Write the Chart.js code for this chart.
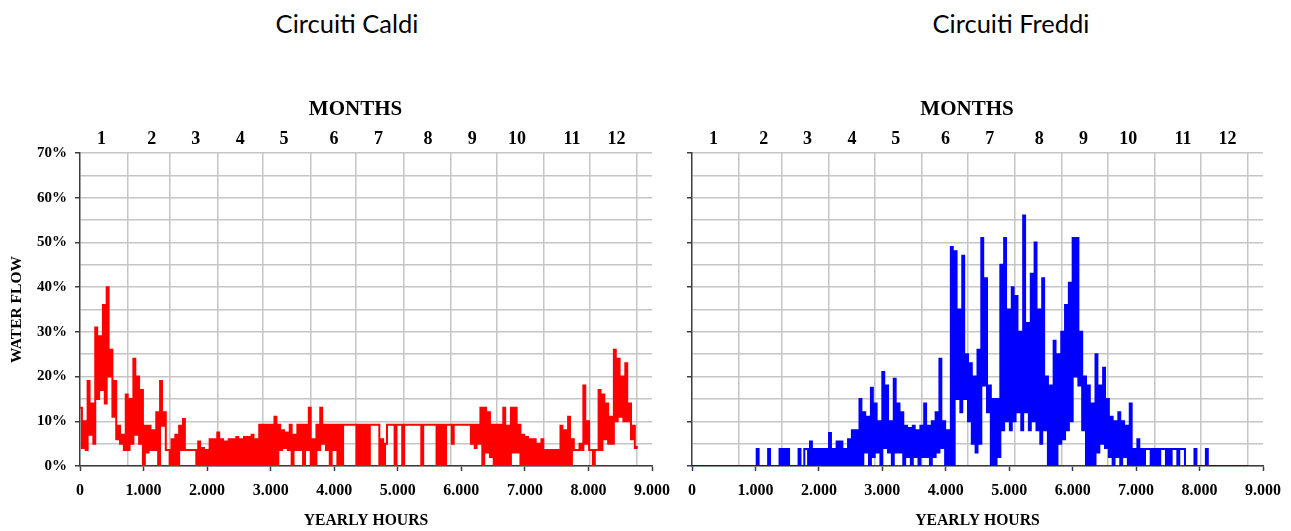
<!DOCTYPE html>
<html>
<head>
<meta charset="utf-8">
<title>Circuiti Caldi / Circuiti Freddi</title>
<script src="https://cdn.jsdelivr.net/npm/chart.js@4.4.1/dist/chart.umd.min.js"></script>
<style>
  html, body { margin: 0; padding: 0; background: #fff; }
  body { width: 1291px; height: 531px; position: relative; overflow: hidden; }
  .heading {
    position: absolute; top: 11px; line-height: 1;
    font-family: Lato, "Open Sans", sans-serif; font-size: 25.5px; color: #000;
    transform: translateX(-50%); white-space: nowrap;
  }
  .panel { position: absolute; top: 0; height: 531px; }
  canvas { display: block; }
</style>
</head>
<body>
<div class="heading" style="left:347px">Circuiti Caldi</div>
<div class="heading" style="left:1011px">Circuiti Freddi</div>
<div class="panel" style="left:0;width:680px"><canvas id="caldi" width="680" height="531"></canvas></div>
<div class="panel" style="left:612px;width:679px"><canvas id="freddi" width="679" height="531"></canvas></div>

<script>
// ---- Calendar / tick labels ----
const monthLabels = ['1', '2', '3', '4', '5', '6', '7', '8', '9', '10', '11', '12'];
// hour at which each month number is printed on the top axis
const monthLabelHours = [340, 1130, 1820, 2520, 3210, 3995, 4695, 5475, 6170, 6875, 7740, 8440];
const monthDays = [31, 28, 31, 30, 31, 30, 31, 31, 30, 31, 30, 31];
const hourTickValues = [0, 1000, 2000, 3000, 4000, 5000, 6000, 7000, 8000, 9000];
const hourTickLabels = ['0', '1.000', '2.000', '3.000', '4.000', '5.000', '6.000', '7.000', '8.000', '9.000'];
const flowGridValues = [0, 5, 10, 15, 20, 25, 30, 35, 40, 45, 50, 55, 60, 65, 70];
const flowTickLabels = ['0%', '10%', '20%', '30%', '40%', '50%', '60%', '70%'];

// ---- Hourly water flow (%), two samples per 60-hour block:
// first half of the block, second half of the block ----
const BLOCK_HOURS = 60;

const caldiFirst = [
  13, 10, 19, 14, 31, 29, 36, 40, 26, 19,
  9, 7, 16, 15, 24, 20, 17, 9, 9, 8,
  12, 19, 12, 3.6, 6, 7, 9, 10.5, 3.6, 3.6,
  3.6, 5.5, 4, 3.6, 6, 6, 7.5, 6, 5.5, 6,
  6, 6.5, 6, 6.5, 6.5, 7, 6, 9.2, 9.2, 9.2,
  9.2, 11, 9.2, 8, 7.5, 9.2, 7, 9.2, 9.2, 9.2,
  13, 6, 9.2, 13, 9.2, 9.2, 9.2, 9.2, 9.2, 9.2,
  9.2, 9.2, 9.2, 9.2, 9.2, 9.2, 9.2, 9.2, 9.2, 6,
  5, 9.2, 9.2, 9.2, 9.2, 9.2, 9.2, 9.2, 9.2, 9.2,
  9.2, 9.2, 9.2, 9.2, 9.2, 9.2, 9.2, 9.2, 9.2, 9.2,
  9.2, 9.2, 9.2, 9.2, 9.2, 13, 13, 12, 9.2, 9.2,
  9.2, 13, 9, 13, 13, 9.2, 7, 6.5, 6, 6,
  5, 6, 3.6, 3.6, 3.6, 3.6, 9, 8, 11, 6,
  3.6, 5, 18, 10, 3.6, 3.6, 17, 16, 14, 11,
  26, 24, 20, 23, 14, 9
];
const caldiSecond = [
  4, 3.6, 7, 5, 15, 17, 14, 20, 11, 6,
  5, 3.6, 3.6, 5, 7, 5, 0, 3, 3.6, 3.6,
  0, 9, 3.6, 0, 0, 0, 3.6, 3.6, 3.6, 3.6,
  0, 0, 0, 0, 0, 0, 0, 0, 0, 0,
  0, 0, 0, 0, 0, 0, 0, 0, 0, 0,
  0, 0, 3.6, 4, 3.6, 0, 3.6, 3.6, 0, 3.6,
  0, 0, 3.6, 5, 3.6, 0, 3.6, 0, 0, 9.2,
  9.2, 9.2, 0, 0, 0, 0, 9.2, 9.2, 0, 0,
  9.2, 9.2, 0, 9.2, 0, 9.2, 9.2, 9.2, 9.2, 0,
  9.2, 9.2, 9.2, 0, 0, 0, 9.2, 5, 9.2, 9.2,
  9.2, 9.2, 5, 4, 5, 0, 3, 2, 0, 0,
  0, 0, 0, 3, 3, 0, 0, 0, 0, 0,
  0, 0, 0, 0, 0, 0, 0, 0, 0, 3.6,
  3.6, 3.6, 5, 3.6, 0, 3.6, 3.6, 6, 5, 5,
  10, 11, 10, 10, 6, 4
];
const caldiLast = 4.5;

const freddiFirst = [
  0, 0, 0, 0, 0, 0, 0, 0, 0, 0,
  0, 0, 0, 0, 0, 0, 0, 3.8, 0, 0,
  3.8, 0, 0, 3.8, 3.8, 3.8, 0, 0, 3.8, 0,
  3.8, 5.5, 3.8, 3.8, 3.8, 3.8, 7.4, 3.8, 5.5, 5.5,
  3.8, 6, 8, 8, 15, 12, 11, 17.5, 14, 10,
  21, 18, 10, 19.5, 14, 12, 9, 8.5, 9, 8,
  9, 14, 9, 10, 12, 24, 10, 8, 49, 48,
  35, 47, 25, 23, 20, 26, 51, 42, 18, 15,
  15, 45, 51, 35, 40, 38, 30, 56, 32, 43,
  50, 35, 42, 20, 18, 28, 25, 30, 36, 41,
  51, 51, 30, 20, 18, 14, 25, 18, 22, 15,
  11, 10, 12, 10, 9, 14, 3.8, 6, 3.8, 3.8,
  3.8, 3.8, 3.8, 3.8, 3.8, 3.8, 3.8, 3.8, 3.8, 3.8,
  0, 0, 3.8, 0, 0, 3.8, 0, 0, 0, 0,
  0, 0, 0, 0, 0, 0
];
const freddiSecond = [
  0, 0, 0, 0, 0, 0, 0, 0, 0, 0,
  0, 0, 0, 0, 0, 0, 0, 0, 0, 0,
  0, 0, 0, 0, 0, 0, 0, 0, 0, 3.8,
  0, 0, 0, 0, 0, 0, 0, 0, 0, 0,
  0, 0, 0, 0, 0, 3, 0, 2, 3, 0,
  4, 3, 0, 3, 3, 0, 2, 0, 2, 0,
  2, 2, 0, 2, 3, 4, 0, 0, 0, 15,
  12, 15, 10, 5, 3, 5, 18, 12, 0, 0,
  2, 8, 10, 8, 10, 12, 8, 12, 8, 10,
  8, 5, 8, 0, 0, 0, 5, 6, 8, 10,
  20, 18, 8, 0, 0, 0, 3, 5, 4, 2,
  0, 2, 0, 2, 0, 0, 0, 0, 0, 3.8,
  0, 0, 0, 3.8, 0, 0, 3.8, 0, 3.8, 0,
  0, 0, 0, 0, 0, 0, 0, 0, 0, 0,
  0, 0, 0, 0, 0, 0
];
const freddiLast = 0;

// ---- Styling ----
const SERIF = "'Liberation Serif', 'Times New Roman', serif";
const GRID_COLOR = '#c6c6c6';
const AXIS_COLOR = '#3c3c3c';
const CLEAR = 'rgba(0,0,0,0)';

Chart.defaults.color = '#000';
Chart.defaults.font.family = SERIF;

// Month boundaries (grid lines) plus the printed month numbers, in hours.
function monthTicks() {
  const ticks = [];
  let end = 0;
  monthDays.forEach((d, i) => {
    end += d * 24;
    ticks.push({ value: monthLabelHours[i], monthLabel: monthLabels[i] });
    ticks.push({ value: end, boundary: true, monthLabel: '' });
  });
  return ticks.sort((a, b) => a.value - b.value);
}

function toPoints(first, second, last) {
  const pts = [];
  first.forEach((v, i) => {
    pts.push({ x: i * BLOCK_HOURS, y: v });
    pts.push({ x: i * BLOCK_HOURS + BLOCK_HOURS / 2, y: second[i] });
  });
  pts.push({ x: first.length * BLOCK_HOURS, y: last });
  return pts;
}

function buildChart(id, first, second, last, color, withFlowLabels, padRight) {
  const boldSerif = (size) => ({ family: SERIF, size: size, weight: 'bold' });
  return new Chart(document.getElementById(id), {
    type: 'line',
    data: {
      datasets: [{
        data: toPoints(first, second, last),
        borderColor: color,
        borderWidth: 2,
        pointRadius: 0,
        stepped: true,
        fill: false,
        xAxisID: 'x',
        yAxisID: 'y'
      }]
    },
    options: {
      responsive: false,
      devicePixelRatio: 1,
      animation: false,
      layout: { padding: { left: 0, right: padRight, top: 0, bottom: 0 } },
      plugins: { legend: { display: false }, tooltip: { enabled: false }, title: { display: false } },
      scales: {
        x: {
          type: 'linear', position: 'bottom', min: 0, max: 9000,
          afterBuildTicks: (s) => { s.ticks = hourTickValues.map(v => ({ value: v })); },
          ticks: {
            autoSkip: false, maxRotation: 0, padding: 10, color: '#000',
            font: boldSerif(16),
            callback: (v, i) => hourTickLabels[i]
          },
          grid: { drawOnChartArea: false, drawTicks: true, tickLength: 5, tickColor: AXIS_COLOR, tickWidth: 1.5 },
          border: { display: true, color: AXIS_COLOR, width: 1.5 },
          title: { display: true, text: 'YEARLY HOURS', color: '#000', font: boldSerif(15.7), padding: { top: 0, bottom: 1 } },
          afterFit: (s) => { s.height = 65; }
        },
        months: {
          type: 'linear', position: 'top', min: 0, max: 9000,
          afterBuildTicks: (s) => { s.ticks = monthTicks(); },
          ticks: {
            autoSkip: false, maxRotation: 0, padding: 3, color: '#000',
            font: boldSerif(18),
            callback: (v, i, ticks) => ticks[i].monthLabel
          },
          grid: {
            drawTicks: false, lineWidth: 1.5,
            color: (ctx) => (ctx.tick && ctx.tick.boundary) ? GRID_COLOR : CLEAR
          },
          border: { display: false },
          title: { display: true, text: 'MONTHS\u2002\u2002', color: '#000', font: boldSerif(21), padding: { top: 97, bottom: 0 } },
          afterFit: (s) => { s.height = 153; }
        },
        y: {
          type: 'linear', position: 'left', min: 0, max: 70,
          afterBuildTicks: (s) => { s.ticks = flowGridValues.map(v => ({ value: v })); },
          ticks: {
            padding: 8, color: '#000', font: boldSerif(15),
            callback: (v) => (withFlowLabels && v % 10 === 0) ? flowTickLabels[v / 10] : ''
          },
          grid: {
            color: GRID_COLOR, lineWidth: 1.5, drawTicks: true, tickLength: 5, tickWidth: 1.5,
            tickColor: (ctx) => (ctx.tick && ctx.tick.value % 10 === 0) ? AXIS_COLOR : CLEAR
          },
          border: { display: true, color: AXIS_COLOR, width: 1.5 },
          title: { display: withFlowLabels, text: 'WATER FLOW', color: '#000', font: boldSerif(15.5), padding: { top: 8, bottom: 0 } },
          afterFit: (s) => { s.width = 80; }
        }
      }
    }
  });
}

buildChart('caldi', caldiFirst, caldiSecond, caldiLast, '#ff0000', true, 24);
buildChart('freddi', freddiFirst, freddiSecond, freddiLast, '#0000ff', false, 22);
</script>
</body>
</html>
